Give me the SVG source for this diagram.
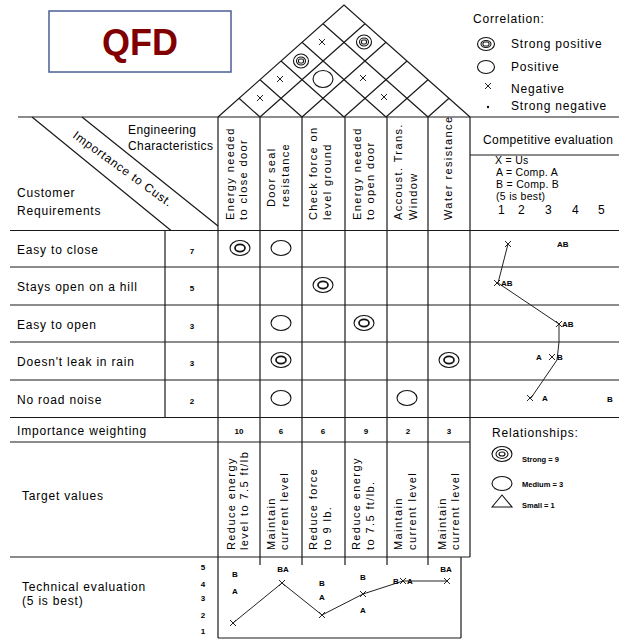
<svg xmlns="http://www.w3.org/2000/svg" xmlns:xlink="http://www.w3.org/1999/xlink" width="619" height="641" viewBox="0 0 619 641">
<style>
.ln{stroke:#1a1a1a;stroke-width:1.2;fill:none}
.t{font-family:"Liberation Sans",Arial,sans-serif;font-size:12px;fill:#000;letter-spacing:0.8px}
.h{letter-spacing:0.4px}
.r{font-size:11px;letter-spacing:1.4px}
.c{font-size:10.5px;letter-spacing:0.3px}
.s{font-family:"Liberation Sans",Arial,sans-serif;font-size:8px;font-weight:bold;fill:#000}
.sm{font-family:"Liberation Sans",Arial,sans-serif;font-size:7.5px;font-weight:bold;fill:#000}
.sym{fill:none;stroke:#111;stroke-width:1.1}
.mk{fill:none;stroke:#222;stroke-width:1}
</style>
<defs>
<g id="dbl" class="sym"><ellipse rx="10" ry="7.5"/><ellipse rx="5" ry="3.6" stroke-width="1.7"/></g>
<g id="cir" class="sym"><ellipse rx="10" ry="7.5"/></g>
<g id="rdbl" class="sym"><ellipse rx="7.5" ry="7"/><ellipse rx="4.5" ry="4"/><rect x="-2.5" y="-2" width="5" height="4" rx="1.5"/></g>
<g id="rcir" class="sym"><ellipse rx="10" ry="8.5"/></g>
<path id="xm" class="mk" d="M-3,-3L3,3M-3,3L3,-3"/>
</defs>

<g id="title">
<rect x="49" y="11" width="182" height="61" fill="#fff" stroke="#4a5f95" stroke-width="1.5"/>
<text x="140" y="55" text-anchor="middle" font-family="Liberation Sans,Arial,sans-serif" font-size="36" font-weight="bold" fill="#800000">QFD</text>
</g>

<g id="roof" class="ln">
<path d="M218,117L344,5L470,117"/>
<path d="M260,117L365,23.7M302,117L386,42.3M344,117L407,61M386,117L428,79.7M428,117L449,98.3"/>
<path d="M260,117L239,98.3M302,117L260,79.7M344,117L281,61M386,117L302,42.3M428,117L323,23.7"/>
</g>
<g id="correlations">
<use xlink:href="#xm" x="260" y="98"/>
<use xlink:href="#xm" x="280" y="79"/>
<use xlink:href="#rdbl" x="301" y="61"/>
<use xlink:href="#xm" x="322" y="42"/>
<use xlink:href="#rdbl" x="364" y="42"/>
<use xlink:href="#rcir" x="323" y="79"/>
<use xlink:href="#xm" x="363" y="78"/>
<use xlink:href="#xm" x="384" y="97"/>
</g>

<g id="correlation-legend">
<text class="t" x="473" y="23">Correlation:</text>
<g class="sym"><ellipse cx="486" cy="44" rx="8.5" ry="6.5"/><ellipse cx="486" cy="44" rx="5" ry="3.5"/><rect x="483" y="42" width="6" height="4" rx="1.5"/></g>
<text class="t" x="511" y="48">Strong positive</text>
<ellipse class="sym" cx="486" cy="67" rx="8.5" ry="6.5"/>
<text class="t" x="511" y="71">Positive</text>
<use xlink:href="#xm" x="488" y="86"/>
<text class="t" x="511" y="93">Negative</text>
<circle cx="488" cy="107" r="1.2" fill="#111"/>
<text class="t" x="511" y="110">Strong negative</text>
</g>

<g id="grid" class="ln">
<path d="M18,117H619"/>
<path d="M10,230.5H619M10,267H619M10,305H619M10,342H619M10,380H619M10,417.5H619"/>
<path d="M10,442H470M10,557H470"/>
<path d="M470,155H619"/>
<path d="M165,230.5V417"/>
<path d="M218,117V638M260,117V565M302,117V565M345,117V565M387,117V565M428,117V565M470,117V557"/>
<path d="M218,638H461M461,557V638"/>
<path d="M32,117L171,230.5M82,117L218,226"/>
</g>

<g id="header-labels">
<text class="t h" x="128" y="134">Engineering</text>
<text class="t h" x="128" y="150">Characteristics</text>
<text class="t" x="17" y="197" letter-spacing="1">Customer</text>
<text class="t" x="17" y="215" letter-spacing="1">Requirements</text>
<text class="t" font-size="11" transform="translate(72,137) rotate(36)" letter-spacing="2.2">Importance to Cust.</text>
</g>

<g id="eng-chars">
<text class="t r" transform="translate(234,220) rotate(-90)">Energy needed</text>
<text class="t r" transform="translate(247,220) rotate(-90)">to close door</text>
<text class="t r" transform="translate(275,207) rotate(-90)">Door seal</text>
<text class="t r" transform="translate(289,207) rotate(-90)" letter-spacing="0.6">resistance</text>
<text class="t r" transform="translate(317,220) rotate(-90)">Check force on</text>
<text class="t r" transform="translate(331,220) rotate(-90)">level ground</text>
<text class="t r" transform="translate(361,220) rotate(-90)">Energy needed</text>
<text class="t r" transform="translate(374,220) rotate(-90)">to open door</text>
<text class="t r" transform="translate(402,220) rotate(-90)">Accoust. Trans.</text>
<text class="t r" transform="translate(417,220) rotate(-90)">Window</text>
<text class="t r" transform="translate(452,220) rotate(-90)" letter-spacing="0.7">Water resistance</text>
</g>

<g id="requirements">
<text class="t" x="17" y="254">Easy to close</text>
<text class="s" x="192" y="254" text-anchor="middle">7</text>
<text class="t" x="17" y="291">Stays open on a hill</text>
<text class="s" x="192" y="291" text-anchor="middle">5</text>
<text class="t" x="17" y="329">Easy to open</text>
<text class="s" x="192" y="329" text-anchor="middle">3</text>
<text class="t" x="17" y="366">Doesn't leak in rain</text>
<text class="s" x="192" y="366" text-anchor="middle">3</text>
<text class="t" x="17" y="404">No road noise</text>
<text class="s" x="192" y="404" text-anchor="middle">2</text>
</g>

<g id="relationships">
<use xlink:href="#dbl" x="240" y="248"/>
<use xlink:href="#cir" x="281" y="248"/>
<use xlink:href="#dbl" x="323" y="285"/>
<use xlink:href="#cir" x="281" y="323"/>
<use xlink:href="#dbl" x="364" y="323"/>
<use xlink:href="#dbl" x="281" y="360"/>
<use xlink:href="#dbl" x="449" y="360"/>
<use xlink:href="#cir" x="281" y="398"/>
<use xlink:href="#cir" x="407" y="398"/>
</g>

<g id="competitive">
<text class="t h" x="483" y="144">Competitive evaluation</text>
<text class="t c" x="495" y="164">X = Us</text>
<text class="t c" x="496" y="176">A = Comp. A</text>
<text class="t c" x="496" y="188">B = Comp. B</text>
<text class="t c" x="496" y="200" letter-spacing="0">(5 is best)</text>
<text class="t" x="498" y="214">1</text>
<text class="t" x="518" y="214">2</text>
<text class="t" x="545" y="214">3</text>
<text class="t" x="572" y="214">4</text>
<text class="t" x="598" y="214">5</text>
<polyline class="mk" points="508,244 498,283 559,324 559,342 557,360 531,398"/>
<use xlink:href="#xm" x="508" y="244"/>
<text class="s" x="557" y="247">AB</text>
<use xlink:href="#xm" x="497" y="283"/>
<text class="s" x="501" y="286">AB</text>
<use xlink:href="#xm" x="559" y="324"/>
<text class="s" x="562" y="327">AB</text>
<text class="s" x="536" y="360">A</text>
<use xlink:href="#xm" x="552" y="357"/>
<text class="s" x="557" y="360">B</text>
<use xlink:href="#xm" x="530" y="398"/>
<text class="s" x="542" y="401">A</text>
<text class="s" x="607" y="402">B</text>
</g>

<g id="weighting">
<text class="t" x="17" y="435">Importance weighting</text>
<text class="s" x="239" y="434" text-anchor="middle">10</text>
<text class="s" x="281" y="434" text-anchor="middle">6</text>
<text class="s" x="323" y="434" text-anchor="middle">6</text>
<text class="s" x="366" y="434" text-anchor="middle">9</text>
<text class="s" x="408" y="434" text-anchor="middle">2</text>
<text class="s" x="449" y="434" text-anchor="middle">3</text>
</g>

<g id="rel-legend">
<text class="t" x="492" y="437" letter-spacing="1">Relationships:</text>
<g class="sym"><ellipse cx="502" cy="454" rx="10" ry="7.5"/><ellipse cx="502" cy="454" rx="6" ry="4.5"/><ellipse cx="502" cy="454" rx="3" ry="2"/></g>
<text class="sm" x="522" y="462">Strong = 9</text>
<ellipse class="sym" cx="502" cy="483.5" rx="10" ry="7"/>
<text class="sm" x="522" y="487">Medium = 3</text>
<path class="sym" d="M492,507L502,495L512,507Z"/>
<text class="sm" x="522" y="508">Small = 1</text>
</g>

<g id="targets">
<text class="t" x="22" y="500">Target values</text>
<text class="t r" transform="translate(235,550) rotate(-90)">Reduce energy</text>
<text class="t r" transform="translate(248,550) rotate(-90)" letter-spacing="0.9">level to 7.5 ft/lb</text>
<text class="t r" transform="translate(275,550) rotate(-90)" letter-spacing="0.2">Maintain</text>
<text class="t r" transform="translate(288,550) rotate(-90)" letter-spacing="0.9">current level</text>
<text class="t r" transform="translate(317,550) rotate(-90)">Reduce force</text>
<text class="t r" transform="translate(331,550) rotate(-90)" letter-spacing="0.8">to 9 lb.</text>
<text class="t r" transform="translate(360,550) rotate(-90)">Reduce energy</text>
<text class="t r" transform="translate(374,550) rotate(-90)" letter-spacing="0.8">to 7.5 ft/lb.</text>
<text class="t r" transform="translate(402,550) rotate(-90)" letter-spacing="0.2">Maintain</text>
<text class="t r" transform="translate(416,550) rotate(-90)" letter-spacing="0.6">current level</text>
<text class="t r" transform="translate(446,550) rotate(-90)" letter-spacing="0.2">Maintain</text>
<text class="t r" transform="translate(459,550) rotate(-90)" letter-spacing="0.9">current level</text>
</g>

<g id="technical">
<text class="t" x="22" y="591">Technical evaluation</text>
<text class="t" x="22" y="605" letter-spacing="0.6">(5 is best)</text>
<text class="s" x="203" y="570" text-anchor="middle">5</text>
<text class="s" x="203" y="587" text-anchor="middle">4</text>
<text class="s" x="203" y="601" text-anchor="middle">3</text>
<text class="s" x="203" y="618" text-anchor="middle">2</text>
<text class="s" x="203" y="634" text-anchor="middle">1</text>
<polyline class="mk" points="233,623 282,583 322,615 363,594 403,581 447,581"/>
<use xlink:href="#xm" x="233" y="623"/>
<use xlink:href="#xm" x="282" y="583"/>
<use xlink:href="#xm" x="322" y="615"/>
<use xlink:href="#xm" x="363" y="594"/>
<use xlink:href="#xm" x="403" y="581"/>
<use xlink:href="#xm" x="447" y="581"/>
<text class="s" x="235" y="577" text-anchor="middle">B</text>
<text class="s" x="235" y="594" text-anchor="middle">A</text>
<text class="s" x="283" y="572" text-anchor="middle">BA</text>
<text class="s" x="322" y="586" text-anchor="middle">B</text>
<text class="s" x="322" y="600" text-anchor="middle">A</text>
<text class="s" x="363" y="580" text-anchor="middle">B</text>
<text class="s" x="363" y="613" text-anchor="middle">A</text>
<text class="s" x="396" y="584" text-anchor="middle">B</text>
<text class="s" x="410" y="584" text-anchor="middle">A</text>
<text class="s" x="446" y="572" text-anchor="middle">BA</text>
</g>
</svg>
